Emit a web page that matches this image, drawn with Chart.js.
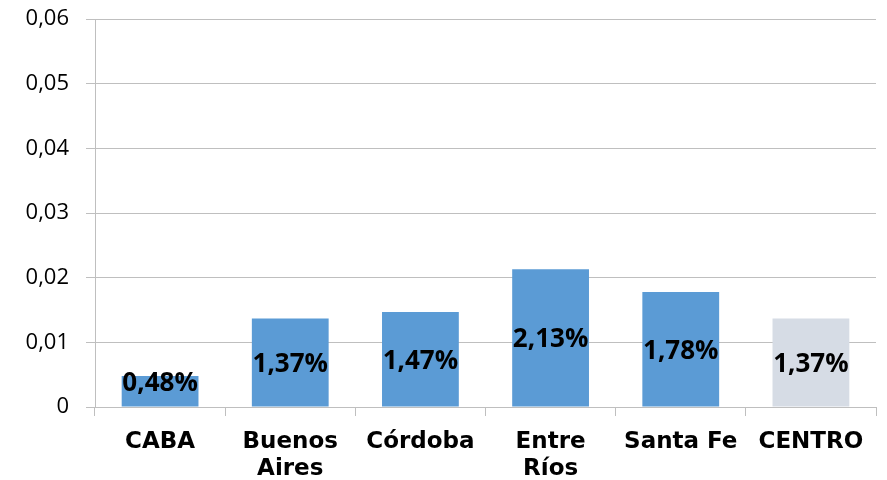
<!DOCTYPE html>
<html><head><meta charset="utf-8">
<script src="https://cdn.jsdelivr.net/npm/chart.js@4/dist/chart.umd.min.js"></script>
<style>html,body{margin:0;padding:0;background:#fff}#wrap{width:887px;height:480px}</style>
</head><body><div id="wrap"><canvas id="c"></canvas></div>
<script>
const categories = [["CABA"], ["Buenos", "Aires"], ["Córdoba"], ["Entre", "Ríos"], ["Santa Fe"], ["CENTRO"]];
const values = [0.0048, 0.0137, 0.0147, 0.0213, 0.0178, 0.0137];
const valueLabels = ["0,48%", "1,37%", "1,47%", "2,13%", "1,78%", "1,37%"];
const barColors = ["#5B9BD5", "#5B9BD5", "#5B9BD5", "#5B9BD5", "#5B9BD5", "#D6DCE5"];
const yTickLabels = ["0", "0,01", "0,02", "0,03", "0,04", "0,05", "0,06"];

const labelPlugin = {
  id: 'barLabels',
  afterDatasetsDraw(chart) {
    const ctx = chart.ctx;
    const meta = chart.getDatasetMeta(0);
    ctx.save();
    ctx.font = 'bold 26px "Open Sans"';
    ctx.fillStyle = '#000';
    ctx.textAlign = 'center';
    ctx.textBaseline = 'middle';
    meta.data.forEach((bar, i) => {
      const p = bar.getProps(['x', 'y', 'base'], true);
      let cy = (p.y + p.base) / 2;
      cy = Math.min(cy, p.base - 25);
      ctx.fillText(valueLabels[i], p.x, cy + 2);
    });
    ctx.restore();
  }
};

new Chart(document.getElementById('c'), {
  type: 'bar',
  data: {
    labels: categories,
    datasets: [{ data: values, backgroundColor: barColors, barPercentage: 0.59, categoryPercentage: 1.0 }]
  },
  options: {
    responsive: true, maintainAspectRatio: false, animation: false,
    layout: { padding: { top: 19, right: 11, left: 0, bottom: 0 } },
    plugins: { legend: { display: false }, tooltip: { enabled: false } },
    scales: {
      x: {
        offset: true,
        grid: { display: true, drawOnChartArea: false, drawTicks: true, tickLength: 9, color: '#BFBFBF', offset: true },
        border: { color: '#BFBFBF' },
        ticks: { color: '#000', font: { family: '"DejaVu Sans"', size: 23, weight: 'bold', lineHeight: 1.2 }, padding: 12, maxRotation: 0, autoSkip: false },
        afterFit(s) { s.height = 73; s.paddingLeft = 0; s.paddingRight = 0; }
      },
      y: {
        min: 0, max: 0.06,
        ticks: { stepSize: 0.01, color: '#000', font: { family: '"Open Sans"', size: 22 }, padding: 17,
          callback: (v, i) => yTickLabels[i] },
        grid: { color: '#BFBFBF', tickLength: 9 },
        border: { color: '#BFBFBF' },
        afterFit(s) { s.width = 95; s.paddingTop = 0; s.paddingBottom = 0; }
      }
    }
  },
  plugins: [labelPlugin]
});
</script></body></html>
